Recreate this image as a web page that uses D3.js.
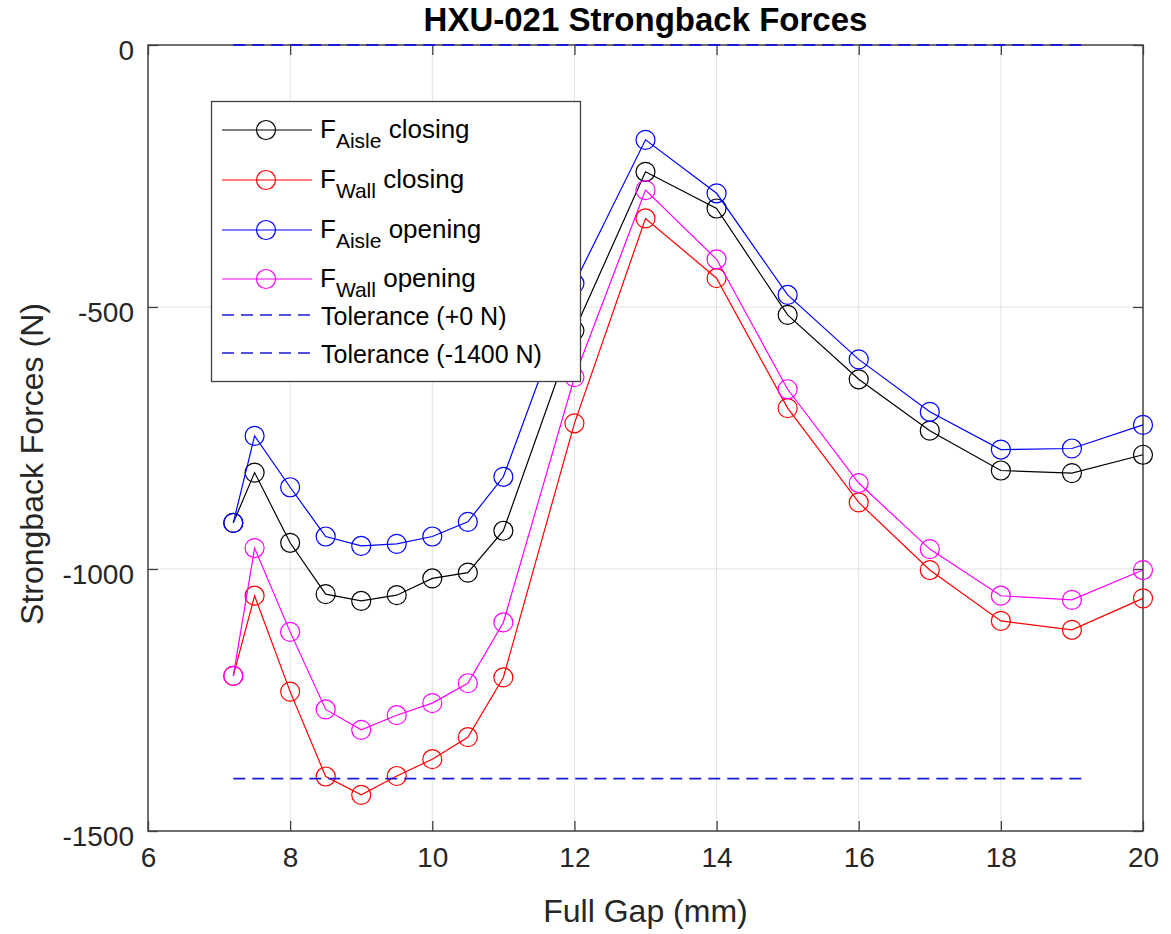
<!DOCTYPE html>
<html>
<head>
<meta charset="utf-8">
<script src="https://cdn.jsdelivr.net/npm/d3@7"></script>
<style>
  html, body { margin: 0; padding: 0; background: #fff; }
  svg { display: block; font-family: Arial, 'Liberation Sans', sans-serif; }
</style>
</head>
<body>
<div id="chart"></div>
<script>
const gap = [7.2, 7.5, 8, 8.5, 9, 9.5, 10, 10.5, 11, 12, 13, 14, 15, 16, 17, 18, 19, 20]
const aisleClosing = [-912, -816, -950, -1048, -1061, -1050, -1018, -1007, -927, -545, -242, -312, -515, -638, -736, -812, -817, -782]
const wallClosing = [-1204, -1051, -1234, -1396, -1431, -1395, -1363, -1321, -1207, -722, -331, -445, -693, -873, -1002, -1099, -1116, -1056]
const aisleOpening = [-912, -746, -844, -938, -956, -952, -938, -910, -824, -455, -181, -283, -477, -600, -700, -772, -770, -725]
const wallOpening = [-1204, -960, -1120, -1268, -1307, -1279, -1256, -1218, -1102, -634, -277, -409, -657, -836, -962, -1051, -1059, -1002]

const tolGap = [7.2, 19.2]
const tolUpper = [0, 0]
const tolLower = [-1400, -1400]

const xTicks = [6, 8, 10, 12, 14, 16, 18, 20]
const yTicks = [0, -500, -1000, -1500]

const series = [
  { name: 'Aisle', suffix: 'closing', values: aisleClosing, color: '#000000' },
  { name: 'Wall', suffix: 'closing', values: wallClosing, color: '#ff0000' },
  { name: 'Aisle', suffix: 'opening', values: aisleOpening, color: '#0000ff' },
  { name: 'Wall', suffix: 'opening', values: wallOpening, color: '#ff00ff' },
]
const tolerances = [
  { label: 'Tolerance (+0 N)', values: tolUpper },
  { label: 'Tolerance (-1400 N)', values: tolLower },
]

const width = 1171
const height = 934
const margin = { top: 45, right: 28, bottom: 103, left: 148 }
const textColor = '#262626'
const tolColor = '#1a1ad8'

const x = d3.scaleLinear().domain([6, 20]).range([margin.left, width - margin.right])
const y = d3.scaleLinear().domain([-1500, 0]).range([height - margin.bottom, margin.top])

const svg = d3.select('#chart')
  .append('svg')
  .attr('width', width)
  .attr('height', height)

// grid
svg.append('g')
  .selectAll('line')
  .data(xTicks.slice(1, -1))
  .join('line')
  .attr('x1', d => x(d)).attr('x2', d => x(d))
  .attr('y1', y(0)).attr('y2', y(-1500))
  .attr('stroke', '#e3e3e3')
  .attr('stroke-width', 1)

svg.append('g')
  .selectAll('line')
  .data(yTicks.slice(1, -1))
  .join('line')
  .attr('x1', x(6)).attr('x2', x(20))
  .attr('y1', d => y(d)).attr('y2', d => y(d))
  .attr('stroke', '#e3e3e3')
  .attr('stroke-width', 1)

// axes, ticks pointing inward on all four sides
const styleAxis = g => {
  g.select('.domain').remove()
  g.selectAll('.tick line').attr('stroke', '#404040').attr('stroke-width', 1.3)
  g.selectAll('.tick text').attr('fill', textColor).attr('font-size', 28)
}
const plain = d => String(d)

svg.append('g')
  .attr('transform', `translate(0,${y(-1500)})`)
  .call(d3.axisBottom(x).tickValues(xTicks).tickSize(-10).tickFormat(plain))
  .call(styleAxis)
  .call(g => g.selectAll('.tick text').attr('y', 36).attr('dy', null))

svg.append('g')
  .attr('transform', `translate(0,${y(0)})`)
  .call(d3.axisTop(x).tickValues(xTicks).tickSize(-10).tickFormat(''))
  .call(styleAxis)

svg.append('g')
  .attr('transform', `translate(${x(6)},0)`)
  .call(d3.axisLeft(y).tickValues(yTicks).tickSize(-10).tickFormat(plain))
  .call(styleAxis)
  .call(g => g.selectAll('.tick text').attr('x', -14).attr('dy', null).attr('y', 14))

svg.append('g')
  .attr('transform', `translate(${x(20)},0)`)
  .call(d3.axisRight(y).tickValues(yTicks).tickSize(-10).tickFormat(''))
  .call(styleAxis)

svg.append('rect')
  .attr('x', x(6))
  .attr('y', y(0))
  .attr('width', x(20) - x(6))
  .attr('height', y(-1500) - y(0))
  .attr('fill', 'none')
  .attr('stroke', '#404040')
  .attr('stroke-width', 1.5)

// data lines + circle markers
const line = d3.line()
  .x((d, i) => x(gap[i]))
  .y(d => y(d))

series.forEach(s => {
  const g = svg.append('g')
  g.append('path')
    .datum(s.values)
    .attr('d', line)
    .attr('fill', 'none')
    .attr('stroke', s.color)
    .attr('stroke-width', 1.2)
  g.selectAll('circle')
    .data(s.values)
    .join('circle')
    .attr('cx', (d, i) => x(gap[i]))
    .attr('cy', d => y(d))
    .attr('r', 9.5)
    .attr('fill', 'none')
    .attr('stroke', s.color)
    .attr('stroke-width', 1.2)
})

const tolLine = d3.line()
  .x((d, i) => x(tolGap[i]))
  .y(d => y(d))

tolerances.forEach(t => {
  svg.append('path')
    .datum(t.values)
    .attr('d', tolLine)
    .attr('fill', 'none')
    .attr('stroke', tolColor)
    .attr('stroke-width', 1.8)
    .attr('stroke-dasharray', '12,7')
})

// title + axis labels
svg.append('text')
  .attr('x', (x(6) + x(20)) / 2)
  .attr('y', 31)
  .attr('text-anchor', 'middle')
  .attr('font-size', 33)
  .attr('font-weight', 'bold')
  .attr('fill', '#000')
  .text('HXU-021 Strongback Forces')

svg.append('text')
  .attr('x', (x(6) + x(20)) / 2)
  .attr('y', 922)
  .attr('text-anchor', 'middle')
  .attr('font-size', 32)
  .attr('fill', textColor)
  .text('Full Gap (mm)')

svg.append('text')
  .attr('transform', `translate(43,464) rotate(-90)`)
  .attr('text-anchor', 'middle')
  .attr('font-size', 32)
  .attr('fill', textColor)
  .text('Strongback Forces (N)')

// legend
const legend = svg.append('g')
legend.append('rect')
  .attr('x', 211.5)
  .attr('y', 101.5)
  .attr('width', 369)
  .attr('height', 280)
  .attr('fill', '#fff')
  .attr('stroke', '#404040')
  .attr('stroke-width', 1.3)

const rowY = [130, 180, 230, 279]
series.forEach((s, i) => {
  const cy = rowY[i]
  legend.append('line')
    .attr('x1', 222).attr('x2', 312)
    .attr('y1', cy).attr('y2', cy)
    .attr('stroke', s.color)
    .attr('stroke-width', 1.2)
  legend.append('circle')
    .attr('cx', 266).attr('cy', cy)
    .attr('r', 9.5)
    .attr('fill', 'none')
    .attr('stroke', s.color)
    .attr('stroke-width', 1.2)
  const t = legend.append('text')
    .attr('x', 320)
    .attr('y', cy + 8)
    .attr('font-size', 26)
    .attr('fill', '#000')
  t.append('tspan').text('F')
  t.append('tspan').attr('dy', 10).attr('font-size', 21).text(s.name)
  t.append('tspan').attr('dy', -10).text('\u00a0' + s.suffix)
})

const tolRowY = [315, 353]
tolerances.forEach((tol, i) => {
  const cy = tolRowY[i]
  legend.append('line')
    .attr('x1', 222).attr('x2', 312)
    .attr('y1', cy).attr('y2', cy)
    .attr('stroke', tolColor)
    .attr('stroke-width', 1.6)
    .attr('stroke-dasharray', '12,7')
  legend.append('text')
    .attr('x', 321)
    .attr('y', cy + 10)
    .attr('font-size', 25)
    .attr('fill', '#000')
    .text(tol.label)
})
</script>
</body>
</html>
